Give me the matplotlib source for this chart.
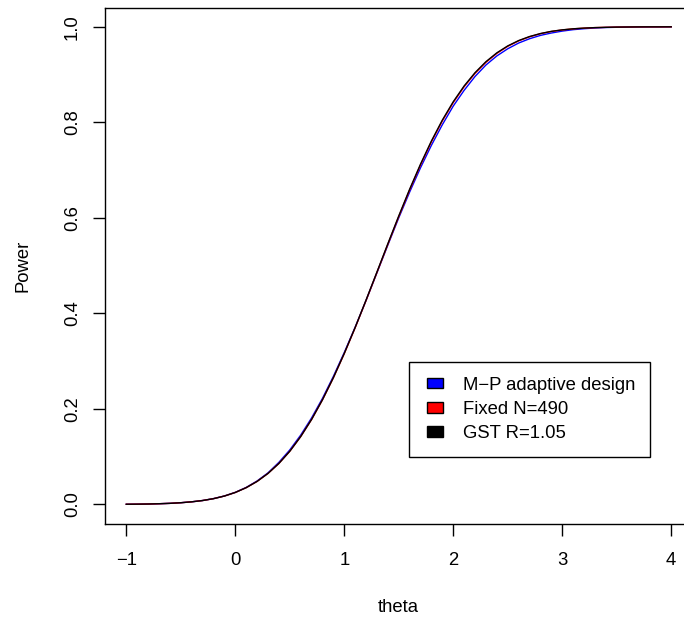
import numpy as np
import matplotlib
matplotlib.use("Agg")
import matplotlib.pyplot as plt
from matplotlib.patches import Patch, Rectangle
from matplotlib.legend_handler import HandlerPatch

plt.rcParams['font.family'] = ['Liberation Sans', 'DejaVu Sans']

# Power curves (theta from -1 to 4 in steps of 0.1)
theta = [-1.0, -0.9, -0.8, -0.7, -0.6, -0.5, -0.4, -0.3, -0.2, -0.1,
         0.0, 0.1, 0.2, 0.3, 0.4, 0.5, 0.6, 0.7, 0.8, 0.9,
         1.0, 1.1, 1.2, 1.3, 1.4, 1.5, 1.6, 1.7, 1.8, 1.9,
         2.0, 2.1, 2.2, 2.3, 2.4, 2.5, 2.6, 2.7, 2.8, 2.9,
         3.0, 3.1, 3.2, 3.3, 3.4, 3.5, 3.6, 3.7, 3.8, 3.9, 4.0]
power_adaptive = [0.0003, 0.0005, 0.0008, 0.0014, 0.0022, 0.0035, 0.0054, 0.0081, 0.0121, 0.0176,
                  0.0252, 0.0355, 0.0490, 0.0660, 0.0880, 0.1140, 0.1450, 0.1810, 0.2220, 0.2680,
                  0.3180, 0.3710, 0.4270, 0.4850, 0.5430, 0.6000, 0.6540, 0.7050, 0.7520, 0.7950,
                  0.8340, 0.8670, 0.8960, 0.9200, 0.9390, 0.9540, 0.9660, 0.9750, 0.9820, 0.9870,
                  0.9910, 0.9940, 0.9960, 0.9975, 0.9985, 0.9990, 0.9994, 0.9997, 0.9998, 0.9999, 1.0]
power_fixed = [0.0003, 0.0005, 0.0008, 0.0014, 0.0022, 0.0035, 0.0054, 0.0081, 0.0120, 0.0175,
               0.0250, 0.0350, 0.0481, 0.0648, 0.0857, 0.1112, 0.1419, 0.1777, 0.2189, 0.2650,
               0.3156, 0.3699, 0.4270, 0.4856, 0.5446, 0.6026, 0.6584, 0.7109, 0.7593, 0.8029,
               0.8413, 0.8745, 0.9025, 0.9256, 0.9443, 0.9591, 0.9705, 0.9791, 0.9855, 0.9902,
               0.9934, 0.9957, 0.9972, 0.9983, 0.9989, 0.9994, 0.9996, 0.9998, 0.9999, 0.9999, 1.0]
power_gst = [0.0003, 0.0005, 0.0008, 0.0014, 0.0022, 0.0035, 0.0054, 0.0081, 0.0120, 0.0175,
             0.0250, 0.0350, 0.0481, 0.0648, 0.0857, 0.1112, 0.1419, 0.1778, 0.2191, 0.2653,
             0.3160, 0.3705, 0.4278, 0.4866, 0.5458, 0.6040, 0.6600, 0.7126, 0.7611, 0.8047,
             0.8431, 0.8762, 0.9040, 0.9270, 0.9455, 0.9600, 0.9712, 0.9796, 0.9859, 0.9905,
             0.9936, 0.9958, 0.9973, 0.9983, 0.9989, 0.9994, 0.9996, 0.9998, 0.9999, 0.9999, 1.0]

labels = ['M\u2212P adaptive design', 'Fixed N=490', 'GST R=1.05']
colors = ['blue', 'red', 'black']
x_ticks = [-1, 0, 1, 2, 3, 4]
y_ticks = [0.0, 0.2, 0.4, 0.6, 0.8, 1.0]

fs = 13.3
W, H = 684, 618
fig = plt.figure(figsize=(W / 100, H / 100), dpi=100)
# plot box, in pixels: left 104.5, right 693 (past the edge), top 7.7, bottom 523.5
ax = fig.add_axes([104.5 / W, (H - 523.5) / H, (693 - 104.5) / W, (523.5 - 7.7) / H])

for ys, c in zip([power_adaptive, power_fixed, power_gst], colors):
    ax.plot(theta, ys, color=c, lw=1.0)

# R style axes: 4% padding
ax.set_xlim(-1.2, 4.2)
ax.set_ylim(-0.04, 1.04)
ax.set_xticks(x_ticks)
ax.set_yticks(y_ticks)
ax.set_yticklabels(['%.1f' % v for v in y_ticks], rotation=90, va='center')
ax.tick_params(axis='x', length=8.6, width=1.0, pad=12, labelsize=fs)
ax.tick_params(axis='y', length=8.6, width=1.0, pad=8.5, labelsize=fs)
for s in ax.spines.values():
    s.set_linewidth(1.0)

ax.set_xlabel('theta', fontsize=fs)
ax.set_ylabel('Power', fontsize=fs)
ax.xaxis.set_label_coords(0.5, -0.146)
ax.yaxis.set_label_coords(-0.124, 0.5)


# small filled squares like R's legend(fill=...)
def square(legend, orig_handle, xdescent, ydescent, width, height, fontsize):
    px = 72 / 100
    return Rectangle((-xdescent + 3 * px, -ydescent + height / 2 - 5.2 * px),
                     16 * px, 10.5 * px)


handles = [Patch(facecolor=c, edgecolor='black', linewidth=1.0) for c in colors]
leg = ax.legend(handles, labels, fontsize=fs, loc='upper left',
                bbox_to_anchor=(409 / W, (H - 361.7) / H), bbox_transform=fig.transFigure,
                borderaxespad=0, borderpad=0.81, handlelength=1.03, handleheight=0.7,
                handletextpad=1.08, labelspacing=0.39, fancybox=False, framealpha=1,
                edgecolor='black', handler_map={Patch: HandlerPatch(patch_func=square)})
leg.get_frame().set_linewidth(1.0)

fig.savefig('out.png', dpi=100)
